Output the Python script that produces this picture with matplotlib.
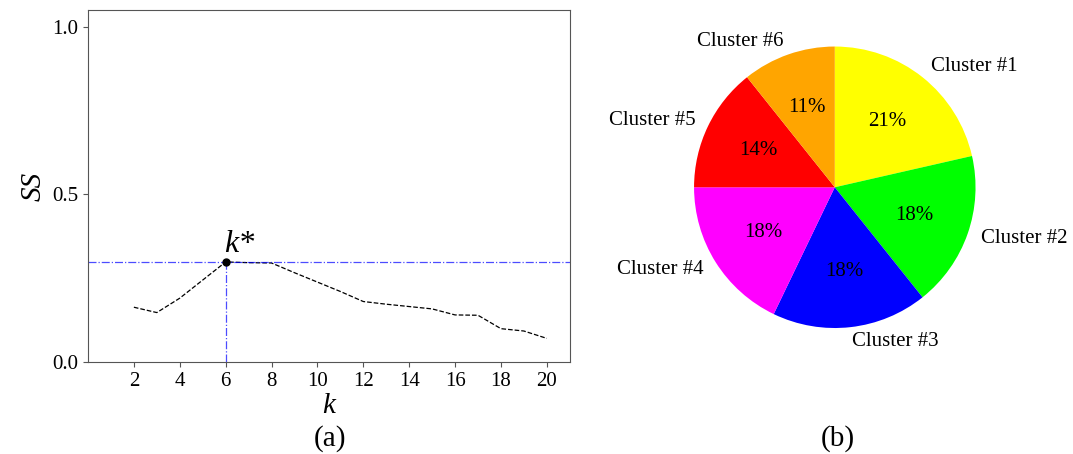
import matplotlib
matplotlib.use("Agg")
import matplotlib.pyplot as plt

plt.rcParams['font.family'] = ['Liberation Serif', 'DejaVu Serif']

# silhouette score vs number of clusters
k_values = [2, 3, 4, 5, 6, 7, 8, 9, 10, 11, 12, 13, 14, 15, 16, 17, 18, 19, 20]
ss_values = [0.163, 0.147, 0.19, 0.244, 0.298, 0.296, 0.295, 0.266, 0.238, 0.21,
             0.18, 0.172, 0.165, 0.158, 0.14, 0.139, 0.099, 0.092, 0.07]
k_best = 6
ss_best = 0.298

# cluster sizes for the pie
cluster_labels = ['Cluster #1', 'Cluster #2', 'Cluster #3', 'Cluster #4', 'Cluster #5', 'Cluster #6']
cluster_sizes = [6, 5, 5, 5, 4, 3]
cluster_colors = ['#ffff00', '#00ff00', '#0000ff', '#ff00ff', '#ff0000', '#ffa500']

fig = plt.figure(figsize=(10.73, 4.54), dpi=100)

########################################################
# (a) silhouette curve
########################################################
ax1 = fig.add_axes([0.082, 0.203, 0.449, 0.775])
ax1.plot(k_values, ss_values, color='black', linestyle='--', linewidth=0.9)
ax1.axhline(ss_best, color='blue', linestyle='-.', linewidth=0.9, alpha=0.7)
ax1.plot([k_best, k_best], [0, ss_best], color='blue', linestyle='-.', linewidth=0.9, alpha=0.7)
ax1.plot(k_best, ss_best, 'o', color='black', markersize=5)
ax1.text(k_best + 0.6, ss_best + 0.008, 'k*', fontsize=23, style='italic', ha='center', va='bottom')
ax1.set_xlim(0, 21)
ax1.set_ylim(0, 1.05)
ax1.set_xticks(range(2, 21, 2))
ax1.set_yticks([0.0, 0.5, 1.0])
ax1.tick_params(labelsize=15, color='#555555')
for sp in ax1.spines.values():
    sp.set_color('#555555')
ax1.set_xlabel('k', fontsize=21, style='italic', labelpad=2)
ax1.set_ylabel('SS', fontsize=21, style='italic', labelpad=4)
fig.text(0.308, 0.035, '(a)', fontsize=21, ha='center', va='center')

########################################################
# (b) cluster share pie
########################################################
ax2 = fig.add_axes([0.614, 0.2, 0.328, 0.775])
ax2.pie(cluster_sizes, labels=cluster_labels, colors=cluster_colors,
        autopct='%1.0f%%', startangle=90, counterclock=False,
        pctdistance=0.6, labeldistance=1.1,
        textprops={'fontsize': 15})
ax2.set_aspect('equal')
fig.text(0.781, 0.035, '(b)', fontsize=21, ha='center', va='center')

fig.savefig('out.png', dpi=100)
